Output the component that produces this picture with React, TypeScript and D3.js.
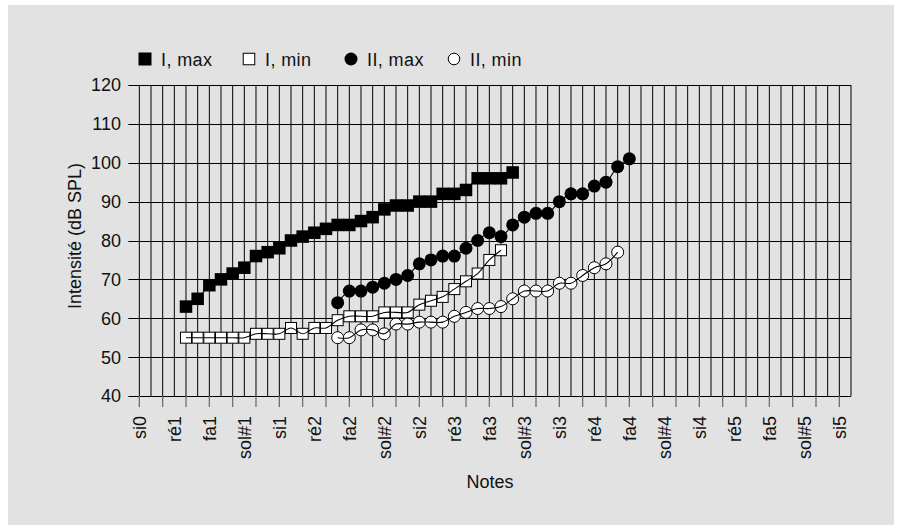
import { useEffect, useRef } from "react";
import * as d3 from "d3";

// x axis: one category per semitone, si0 = 0 ... do6 = 61
const noteLabels = [
  "si0", "ré1", "fa1", "sol#1", "si1", "ré2", "fa2", "sol#2", "si2", "ré3", "fa3",
  "sol#3", "si3", "ré4", "fa4", "sol#4", "si4", "ré5", "fa5", "sol#5", "si5",
];
const semitoneCount = 61;
const yTicks = [40, 50, 60, 70, 80, 90, 100, 110, 120];

// I, max (from semitone 4)
const iMaxStart = 4;
const iMax = [63, 65, 68.5, 70, 71.5, 73, 76, 77, 78, 80, 81, 82, 83, 84, 84, 85, 86, 88, 89, 89, 90, 90, 92, 92, 93, 96, 96, 96, 97.5];

// I, min (from semitone 4)
const iMinStart = 4;
const iMin = [55, 55, 55, 55, 55, 55, 56, 56, 56, 57.5, 56, 57.5, 57.5, 59.5, 60.5, 60.5, 60.5, 61.5, 61.5, 61.5, 63.5, 64.5, 65.5, 67.5, 69.5, 71.5, 75, 77.5];

// II, max (from semitone 17)
const iiMaxStart = 17;
const iiMax = [64, 67, 67, 68, 69, 70, 71, 74, 75, 76, 76, 78, 80, 82, 81, 84, 86, 87, 87, 90, 92, 92, 94, 95, 99, 101];

// II, min (from semitone 17)
const iiMinStart = 17;
const iiMin = [55, 55, 57, 57, 56, 58.5, 58.5, 59, 59, 59, 60.5, 61.5, 62.5, 62.5, 63, 65, 67, 67, 67, 69, 69, 71, 73, 74, 77];

interface Series {
  name: string;
  start: number;
  values: number[];
  shape: "square" | "circle";
  filled: boolean;
}

const series: Series[] = [
  { name: "I, max", start: iMaxStart, values: iMax, shape: "square", filled: true },
  { name: "I, min", start: iMinStart, values: iMin, shape: "square", filled: false },
  { name: "II, max", start: iiMaxStart, values: iiMax, shape: "circle", filled: true },
  { name: "II, min", start: iiMinStart, values: iiMin, shape: "circle", filled: false },
];

const FONT = "'Liberation Sans', Arial, Helvetica, sans-serif";

export default function App() {
  const svgRef = useRef<SVGSVGElement>(null);

  useEffect(() => {
    if (!svgRef.current) return;
    const width = 902;
    const height = 530;
    const left = 139.33;
    const right = 851;
    const top = 85;
    const bottom = 396;

    const svg = d3.select(svgRef.current);
    svg.selectAll("*").remove();
    svg.attr("width", width).attr("height", height);

    svg.append("rect").attr("width", width).attr("height", height).attr("fill", "#fff");
    svg.append("rect").attr("x", 8).attr("y", 5).attr("width", 886).attr("height", 520).attr("fill", "#e2e2e2");

    const x = d3.scaleLinear().domain([0, semitoneCount]).range([left, right]);
    const y = d3.scaleLinear().domain([40, 120]).range([bottom, top]);
    const crisp = (v: number) => Math.round(v) + 0.5;

    const g = svg.append("g");

    // vertical grid, one per semitone
    d3.range(0, semitoneCount + 1).forEach((i) => {
      g.append("line")
        .attr("x1", x(i)).attr("x2", x(i))
        .attr("y1", top).attr("y2", bottom)
        .attr("stroke", "#000").attr("stroke-width", 1);
    });

    // horizontal grid + y ticks
    yTicks.forEach((v) => {
      g.append("line")
        .attr("x1", left - 11).attr("x2", right)
        .attr("y1", crisp(y(v))).attr("y2", crisp(y(v)))
        .attr("stroke", "#000").attr("stroke-width", 1);
      g.append("text")
        .attr("x", 121).attr("y", y(v)).attr("dy", "0.36em")
        .attr("text-anchor", "end")
        .attr("font-family", FONT).attr("font-size", 18).attr("fill", "#111")
        .text(v);
    });

    // x ticks every 2 semitones
    d3.range(0, 61, 2).forEach((i) => {
      g.append("line")
        .attr("x1", x(i)).attr("x2", x(i))
        .attr("y1", bottom).attr("y2", bottom + 11)
        .attr("stroke", "#666").attr("stroke-width", 1.2);
    });

    // note labels every 3 semitones
    noteLabels.forEach((lab, k) => {
      g.append("text")
        .attr("transform", `translate(${x(k * 3)},416) rotate(-90)`)
        .attr("dy", "0.36em")
        .attr("text-anchor", "end")
        .attr("font-family", FONT).attr("font-size", 18).attr("fill", "#111")
        .text(lab);
    });

    // axis titles
    g.append("text")
      .attr("x", 490).attr("y", 488)
      .attr("text-anchor", "middle")
      .attr("font-family", FONT).attr("font-size", 18).attr("fill", "#111")
      .text("Notes");
    g.append("text")
      .attr("transform", `translate(81,236) rotate(-90)`)
      .attr("text-anchor", "middle")
      .attr("font-family", FONT).attr("font-size", 18).attr("fill", "#111")
      .text("Intensité (dB SPL)");

    const drawMarker = (sel: any, s: Series, cx: number, cy: number) => {
      if (s.shape === "square") {
        const size = s.filled ? 12.5 : 11;
        sel.append("rect")
          .attr("x", cx - size / 2).attr("y", cy - size / 2)
          .attr("width", size).attr("height", size)
          .attr("fill", s.filled ? "#000" : "#fff")
          .attr("stroke", "#000").attr("stroke-width", s.filled ? 0 : 1);
      } else {
        sel.append("circle")
          .attr("cx", cx).attr("cy", cy)
          .attr("r", s.filled ? 6.5 : 6)
          .attr("fill", s.filled ? "#000" : "#fff")
          .attr("stroke", "#000").attr("stroke-width", s.filled ? 0 : 1);
      }
    };

    // markers
    series.forEach((s) => {
      s.values.forEach((v, j) => drawMarker(g, s, x(s.start + j), y(v)));
    });

    // smoothed lines on top
    const line = d3.line().curve(d3.curveCatmullRom.alpha(0.5));
    series.forEach((s) => {
      const pts: [number, number][] = s.values.map((v, j) => [x(s.start + j), y(v)]);
      g.append("path")
        .attr("d", line(pts))
        .attr("fill", "none").attr("stroke", "#000").attr("stroke-width", 1.1);
    });

    // legend
    const legendX = [145, 249, 351, 454];
    series.forEach((s, k) => {
      const lg = svg.append("g");
      if (s.shape === "square") {
        const size = s.filled ? 13 : 11.5;
        lg.append("rect")
          .attr("x", legendX[k] - size / 2).attr("y", 59 - size / 2)
          .attr("width", size).attr("height", size)
          .attr("fill", s.filled ? "#000" : "#fff")
          .attr("stroke", "#000").attr("stroke-width", s.filled ? 0 : 1);
      } else {
        lg.append("circle")
          .attr("cx", legendX[k]).attr("cy", 59)
          .attr("r", s.filled ? 6.5 : 5.8)
          .attr("fill", s.filled ? "#000" : "#fff")
          .attr("stroke", "#000").attr("stroke-width", s.filled ? 0 : 1);
      }
      lg.append("text")
        .attr("x", legendX[k] + 16).attr("y", 66)
        .attr("font-family", FONT).attr("font-size", 18).attr("fill", "#111")
        .attr("letter-spacing", 0.4)
        .text(s.name);
    });
  }, []);

  return (
    <svg ref={svgRef} style={{ position: "absolute", left: 0, top: 0, display: "block" }} />
  );
}
